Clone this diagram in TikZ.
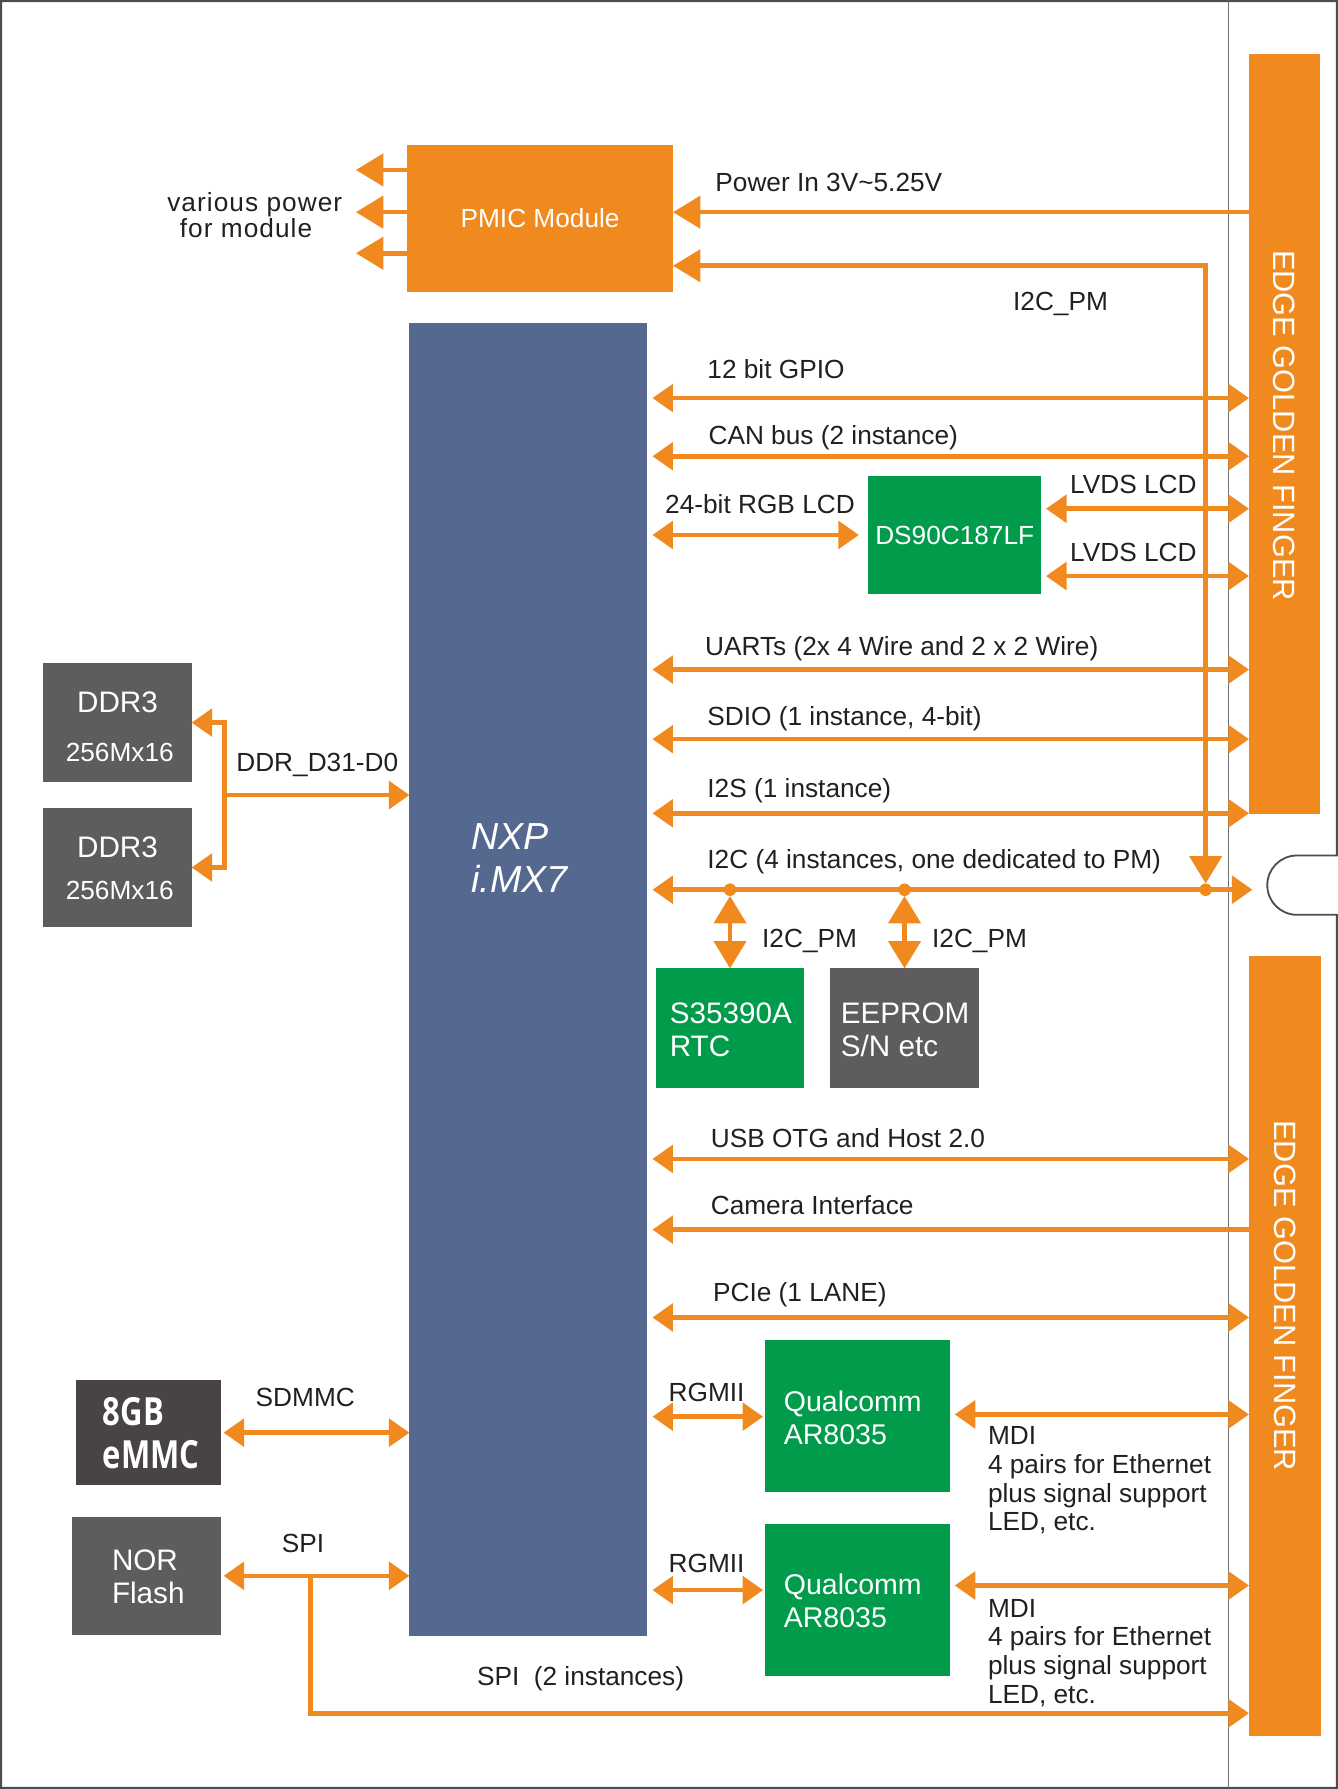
\documentclass[tikz,border=0pt]{standalone}
\usepackage{fontspec}
\setmainfont{Liberation Sans}
\newfontfamily\emmcfont[FakeStretch=0.8]{Open Sans}
\usetikzlibrary{arrows.meta}
\definecolor{orng}{HTML}{F08A1E}
\definecolor{chipblue}{HTML}{55688F}
\definecolor{grn}{HTML}{009B4B}
\definecolor{gry}{HTML}{5E5C5D}
\definecolor{dkgry}{HTML}{474443}
\definecolor{txtc}{HTML}{231F20}
\definecolor{framec}{HTML}{4D4D4F}
\newcommand\labfont{\fontsize{23}{27}\selectfont}
\newcommand\boxfont{\fontsize{26}{30}\selectfont}
\tikzset{
  BT/.tip={Triangle[length=18pt,width=24pt]},
  PT/.tip={Triangle[length=24pt,width=28pt]},
  VT/.tip={Triangle[length=24pt,width=28pt]},
  bus/.style={draw=orng, line width=4pt},
  lab/.style={anchor=base west, inner sep=0pt, text=txtc, font=\labfont},
  wlab/.style={anchor=base west, inner sep=0pt, text=white, font=\boxfont},
  blk/.style={inner sep=0pt, outer sep=0pt, draw=none},
  gft/.style={text=white, font=\fontsize{27}{30}\selectfont, inner sep=0pt},
  dot/.style={circle, fill=orng, minimum size=11pt, inner sep=0pt, outer sep=0pt},
}
\begin{document}
\begin{tikzpicture}[x=1pt,y=-1pt]
\useasboundingbox (0,0) rectangle (1173,1568.4);
% frame
\draw[framec, line width=1.6pt] (1,1) -- (1172,1) -- (1172,750) -- (1137,750)
  .. controls (1122.64,750) and (1111,761.64) .. (1111,776)
  .. controls (1111,790.36) and (1122.64,802) .. (1137,802)
  -- (1172,802) -- (1172,1567.4) -- (1,1567.4) -- cycle;
\draw[framec!80, line width=1.4pt] (1077,1) -- (1077,1567.4);

% golden fingers
\node[blk, fill=orng, minimum width=62pt, minimum height=667pt] (gf1) at (1126,380.5) {};
\node[blk, fill=orng, minimum width=63pt, minimum height=684pt] (gf2) at (1126.5,1180) {};
\node[gft, rotate=-90] (gf1t) at (1126,373) {EDGE GOLDEN FINGER};
\node[gft, rotate=-90] (gf2t) at (1126.5,1136) {EDGE GOLDEN FINGER};

% chip
\node[blk, fill=chipblue, minimum width=208pt, minimum height=1151pt] (chip) at (463,858.5) {};
\node[anchor=base west, inner sep=0pt, text=white, font=\fontsize{33}{37}\selectfont\itshape] (nxp1) at (413,745) {NXP};
\node[anchor=base west, inner sep=0pt, text=white, font=\fontsize{33}{37}\selectfont\itshape] (nxp2) at (413,782) {i.MX7};

% PMIC
\node[blk, fill=orng, minimum width=233pt, minimum height=129pt, text=white, font=\labfont] (pmic) at (473.5,191.5) {PMIC Module};
\coordinate (pw1) at (312,149);
\coordinate (pw2) at (312,186);
\coordinate (pw3) at (312,222);
\draw[bus,-PT] (pmic.west |- pw1) -- (pw1);
\draw[bus,-PT] (pmic.west |- pw2) -- (pw2);
\draw[bus,-PT] (pmic.west |- pw3) -- (pw3);
\node[lab, font=\labfont\addfontfeature{LetterSpace=4}] (vp1) at (146.5,185) {various power};
\node[lab, font=\labfont\addfontfeature{LetterSpace=4}] (vp2) at (157.5,208.6) {for module};

\draw[bus,-PT] (gf1.west |- 0,186) -- (pmic.east |- 0,186);
\node[lab] (pwin) at (627,168) {Power In 3V\char"7E 5.25V};

% I2C_PM line
\node[dot] (d3) at (1057,780) {};
\draw[bus,PT-VT] (pmic.east |- 0,233) -| (d3.north);
\node[lab] (i2cpm0) at (888,272) {I2C\_PM};

% right buses
\draw[bus,BT-BT,shorten <=5pt] (chip.east |- 0,349) -- (gf1.west |- 0,349);
\node[lab] (l1) at (620,332) {12 bit GPIO};
\draw[bus,BT-BT,shorten <=5pt] (chip.east |- 0,400) -- (gf1.west |- 0,400);
\node[lab] (l2) at (621,390) {CAN bus (2 instance)};

\node[blk, fill=grn, minimum width=152pt, minimum height=104pt, text=white, font=\labfont] (ds) at (837,469) {DS90C187LF};
\draw[bus,BT-BT,shorten <=5pt,shorten >=8pt] (chip.east |- ds.west) -- (ds.west);
\node[lab] (l3) at (583,450) {24-bit RGB LCD};
\draw[bus,BT-BT,shorten <=4pt] (ds.east |- 0,446) -- (gf1.west |- 0,446);
\node[lab] (l4) at (938,433) {LVDS LCD};
\draw[bus,BT-BT,shorten <=4pt] (ds.east |- 0,505) -- (gf1.west |- 0,505);
\node[lab] (l5) at (938,492) {LVDS LCD};

\draw[bus,BT-BT,shorten <=5pt] (chip.east |- 0,587) -- (gf1.west |- 0,587);
\node[lab] (l6) at (618,575) {UARTs (2x 4 Wire and 2 x 2 Wire)};
\draw[bus,BT-BT,shorten <=5pt] (chip.east |- 0,648) -- (gf1.west |- 0,648);
\node[lab] (l7) at (620,636) {SDIO (1 instance, 4-bit)};
\draw[bus,BT-BT,shorten <=5pt] (chip.east |- 0,713) -- (gf1.west |- 0,713);
\node[lab] (l8) at (620,699) {I2S (1 instance)};

% I2C bus
\coordinate (i2ce) at (1098,780);
\draw[bus,BT-BT,shorten <=5pt] (chip.east |- i2ce) -- (i2ce);
\node[lab] (l9) at (620,761) {I2C (4 instances, one dedicated to PM)};
\node[dot] (d1) at (640,780) {};
\node[dot] (d2) at (793,780) {};
\node[blk, fill=grn, minimum width=130pt, minimum height=105pt] (rtc) at (640,901.5) {};
\node[blk, fill=gry, minimum width=130pt, minimum height=105pt] (eep) at (793,901.5) {};
\draw[bus,VT-VT] (d1.south) -- (rtc.north);
\draw[bus,VT-VT] (d2.south) -- (eep.north);
\node[lab] (l10) at (668,831) {I2C\_PM};
\node[lab] (l11) at (817,831) {I2C\_PM};
\node[wlab] (rtc1) at (587,897) {S35390A};
\node[wlab] (rtc2) at (587,926) {RTC};
\node[wlab] (eep1) at (737,897) {EEPROM};
\node[wlab] (eep2) at (737,926) {S/N etc};

% lower right buses
\draw[bus,BT-BT,shorten <=5pt] (chip.east |- 0,1016) -- (gf2.west |- 0,1016);
\node[lab] (l12) at (623,1006) {USB OTG and Host 2.0};
\draw[bus,-BT] (gf2.west |- 0,1078) -- ([xshift=5pt]chip.east |- 0,1078);
\node[lab] (l13) at (623,1065) {Camera Interface};
\draw[bus,BT-BT,shorten <=5pt] (chip.east |- 0,1155) -- (gf2.west |- 0,1155);
\node[lab] (l14) at (625,1141) {PCIe (1 LANE)};

% Qualcomm PHYs
\node[blk, fill=grn, minimum width=162pt, minimum height=133pt] (q1) at (752,1241.5) {};
\node[blk, fill=grn, minimum width=162pt, minimum height=133pt] (q2) at (752,1402.5) {};
\node[wlab, font=\fontsize{25}{29}\selectfont] (q1a) at (687,1237) {Qualcomm};
\node[wlab, font=\fontsize{25}{29}\selectfont] (q1b) at (687,1266) {AR8035};
\node[wlab, font=\fontsize{25}{29}\selectfont] (q2a) at (687,1398) {Qualcomm};
\node[wlab, font=\fontsize{25}{29}\selectfont] (q2b) at (687,1427) {AR8035};

\draw[bus,BT-BT,shorten <=5pt,shorten >=2pt] (chip.east |- 0,1242) -- (q1.west |- 0,1242);
\node[lab] (l15) at (586,1229) {RGMII};
\draw[bus,BT-BT,shorten <=4pt] (q1.east |- 0,1240) -- (gf2.west |- 0,1240);
\node[lab] (m1) at (866,1266) {MDI};
\node[lab] (m2) at (866,1292) {4 pairs for Ethernet};
\node[lab] (m3) at (866,1317) {plus signal support};
\node[lab] (m4) at (866,1342) {LED, etc.};

\draw[bus,BT-BT,shorten <=5pt,shorten >=2pt] (chip.east |- 0,1394) -- (q2.west |- 0,1394);
\node[lab] (l16) at (586,1379) {RGMII};
\draw[bus,BT-BT,shorten <=4pt] (q2.east |- 0,1390) -- (gf2.west |- 0,1390);
\node[lab] (m5) at (866,1418) {MDI};
\node[lab] (m6) at (866,1443) {4 pairs for Ethernet};
\node[lab] (m7) at (866,1468) {plus signal support};
\node[lab] (m8) at (866,1493) {LED, etc.};

% DDR
\node[blk, fill=gry, minimum width=130pt, minimum height=105pt] (ddr1) at (103,633.5) {};
\node[blk, fill=gry, minimum width=130pt, minimum height=105pt] (ddr2) at (103,760.5) {};
\node[inner sep=0pt, text=white, font=\boxfont] (ddr1a) at (103,616) {DDR3};
\node[inner sep=0pt, text=white, font=\labfont] (ddr1b) at (105,660) {256Mx16};
\node[inner sep=0pt, text=white, font=\boxfont] (ddr2a) at (103,743) {DDR3};
\node[inner sep=0pt, text=white, font=\labfont] (ddr2b) at (105,781) {256Mx16};
\coordinate (ddrj) at (197,697);
\draw[bus,-BT] (ddrj) -- (chip.west |- ddrj);
\draw[bus,-BT] (ddrj) |- (ddr1.east);
\draw[bus,-BT] (ddrj) |- (ddr2.east);
\node[lab] (l17) at (207,676) {DDR\_D31-D0};

% eMMC
\node[blk, fill=dkgry, minimum width=127pt, minimum height=92pt] (emmc) at (130.5,1256) {};
\node[anchor=base west, inner sep=0pt, text=white, font=\emmcfont\bfseries\fontsize{34}{38}\selectfont] (emmc1) at (90,1250) {8GB};
\node[anchor=base west, inner sep=0pt, text=white, font=\emmcfont\bfseries\fontsize{34}{38}\selectfont] (emmc2) at (90,1287) {eMMC};
\draw[bus,BT-BT,shorten <=2pt] (emmc.east) -- (chip.west |- emmc.east);
\node[lab] (l18) at (224,1233) {SDMMC};

% NOR
\node[blk, fill=gry, minimum width=131pt, minimum height=103pt] (nor) at (128.5,1381.5) {};
\node[wlab] (nor1) at (98,1377) {NOR};
\node[wlab] (nor2) at (98,1406) {Flash};
\draw[bus,BT-BT,shorten <=2pt] (nor.east) -- (chip.west |- nor.east);
\node[lab] (l19) at (247,1361) {SPI};
\coordinate (spij) at (272,1381.5);
\draw[bus,-BT] (spij) |- (gf2.west |- 0,1502);
\node[lab] (l20) at (418,1478) {SPI\ \ (2 instances)};
\end{tikzpicture}
\end{document}
